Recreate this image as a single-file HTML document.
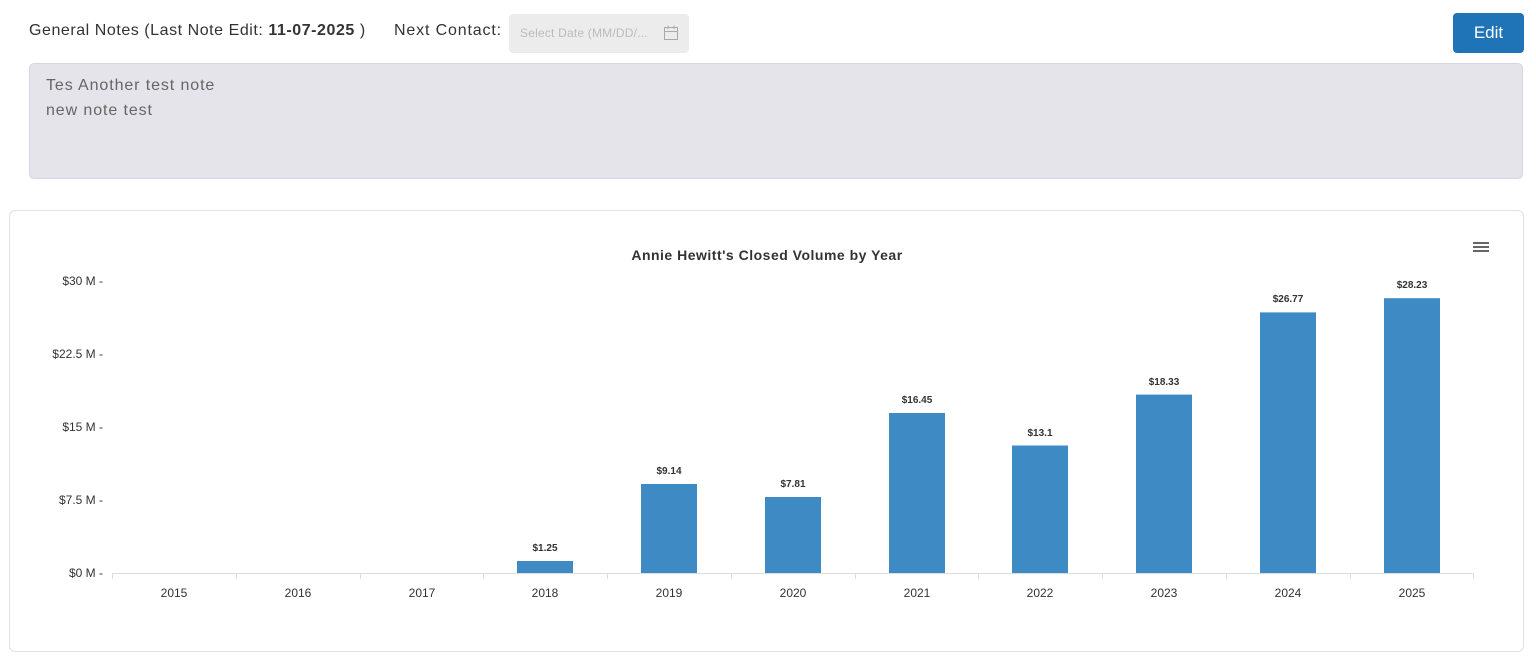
<!DOCTYPE html>
<html><head><meta charset="utf-8"><style>
body{margin:0;width:1536px;height:659px;background:#fff;font-family:"Liberation Sans",sans-serif;position:relative;overflow:hidden}
.abs{position:absolute}
</style></head><body>
<div class="abs" style="left:29px;top:22px;font-size:16px;color:#333;letter-spacing:0.55px">General Notes (Last Note Edit: <b>11-07-2025</b> )</div>
<div class="abs" style="left:394px;top:22px;font-size:16px;color:#333;letter-spacing:0.85px">Next Contact:</div>
<div class="abs" style="left:509px;top:14px;width:180px;height:39px;background:#ececec;border-radius:4px;">
<span class="abs" style="left:11px;top:12px;font-size:12px;color:#bbb;letter-spacing:0.2px">Select Date (MM/DD/...</span>
<svg class="abs" style="left:154px;top:11px" width="16" height="16"><rect x="1.5" y="2.5" width="13" height="12" fill="none" stroke="#aaa"/><line x1="1.5" y1="6.5" x2="14.5" y2="6.5" stroke="#aaa"/><line x1="5" y1="0.5" x2="5" y2="4" stroke="#aaa"/><line x1="11" y1="0.5" x2="11" y2="4" stroke="#aaa"/></svg></div>
<div class="abs" style="left:1453px;top:13px;width:71px;height:40px;background:#1f73b7;border-radius:4px;color:#fff;font-size:17px;text-align:center;line-height:40px">Edit</div>
<div class="abs" style="left:29px;top:63px;width:1494px;height:116px;background:#e4e4ea;border:1px solid #d6d6dc;border-radius:5px;box-sizing:border-box;color:#666;font-size:16px;padding:9px 16px;line-height:25px;letter-spacing:0.9px">Tes Another test note<br>new note test</div>
<div class="abs" style="left:9px;top:210px;width:1515px;height:442px;border:1px solid #e0e0e6;border-radius:6px;box-sizing:border-box"></div>
<svg class="abs" style="left:0;top:0" width="1536" height="659">
<text x="767" y="260" text-anchor="middle" font-size="14" font-weight="bold" fill="#333" letter-spacing="0.5">Annie Hewitt's Closed Volume by Year</text>
<g stroke="#666" stroke-width="2"><line x1="1473" y1="243" x2="1489" y2="243"/><line x1="1473" y1="247" x2="1489" y2="247"/><line x1="1473" y1="251" x2="1489" y2="251"/></g>
<g font-size="12" fill="#333" text-anchor="end">
<text x="103" y="285">$30 M -</text><text x="103" y="358">$22.5 M -</text><text x="103" y="431">$15 M -</text><text x="103" y="504">$7.5 M -</text><text x="103" y="577">$0 M -</text></g>
<line x1="112" y1="573.5" x2="1474" y2="573.5" stroke="#ddd"/>
<g stroke="#ddd"><line x1="112.5" y1="573" x2="112.5" y2="579"/><line x1="236.5" y1="573" x2="236.5" y2="579"/><line x1="360.5" y1="573" x2="360.5" y2="579"/><line x1="483.5" y1="573" x2="483.5" y2="579"/><line x1="607.5" y1="573" x2="607.5" y2="579"/><line x1="731.5" y1="573" x2="731.5" y2="579"/><line x1="855.5" y1="573" x2="855.5" y2="579"/><line x1="978.5" y1="573" x2="978.5" y2="579"/><line x1="1102.5" y1="573" x2="1102.5" y2="579"/><line x1="1226.5" y1="573" x2="1226.5" y2="579"/><line x1="1350.5" y1="573" x2="1350.5" y2="579"/><line x1="1473.5" y1="573" x2="1473.5" y2="579"/></g>
<g font-size="12" fill="#333" text-anchor="middle">
<text x="174" y="597">2015</text><text x="298" y="597">2016</text><text x="422" y="597">2017</text><text x="545" y="597">2018</text><text x="669" y="597">2019</text><text x="793" y="597">2020</text><text x="917" y="597">2021</text><text x="1040" y="597">2022</text><text x="1164" y="597">2023</text><text x="1288" y="597">2024</text><text x="1412" y="597">2025</text></g>
<g fill="#3d8ac4">
<rect x="517" y="561" width="56" height="12"/><rect x="641" y="484" width="56" height="89"/><rect x="765" y="497" width="56" height="76"/><rect x="889" y="413" width="56" height="160"/><rect x="1012" y="445.5" width="56" height="127.5"/><rect x="1136" y="394.6" width="56" height="178.4"/><rect x="1260" y="312.4" width="56" height="260.6"/><rect x="1384" y="298.2" width="56" height="274.8"/></g>
<g font-size="10" font-weight="bold" fill="#333" text-anchor="middle">
<text x="545" y="551">$1.25</text><text x="669" y="474">$9.14</text><text x="793" y="487">$7.81</text><text x="917" y="403">$16.45</text><text x="1040" y="436">$13.1</text><text x="1164" y="385">$18.33</text><text x="1288" y="302">$26.77</text><text x="1412" y="288">$28.23</text></g>
</svg>
</body></html>
